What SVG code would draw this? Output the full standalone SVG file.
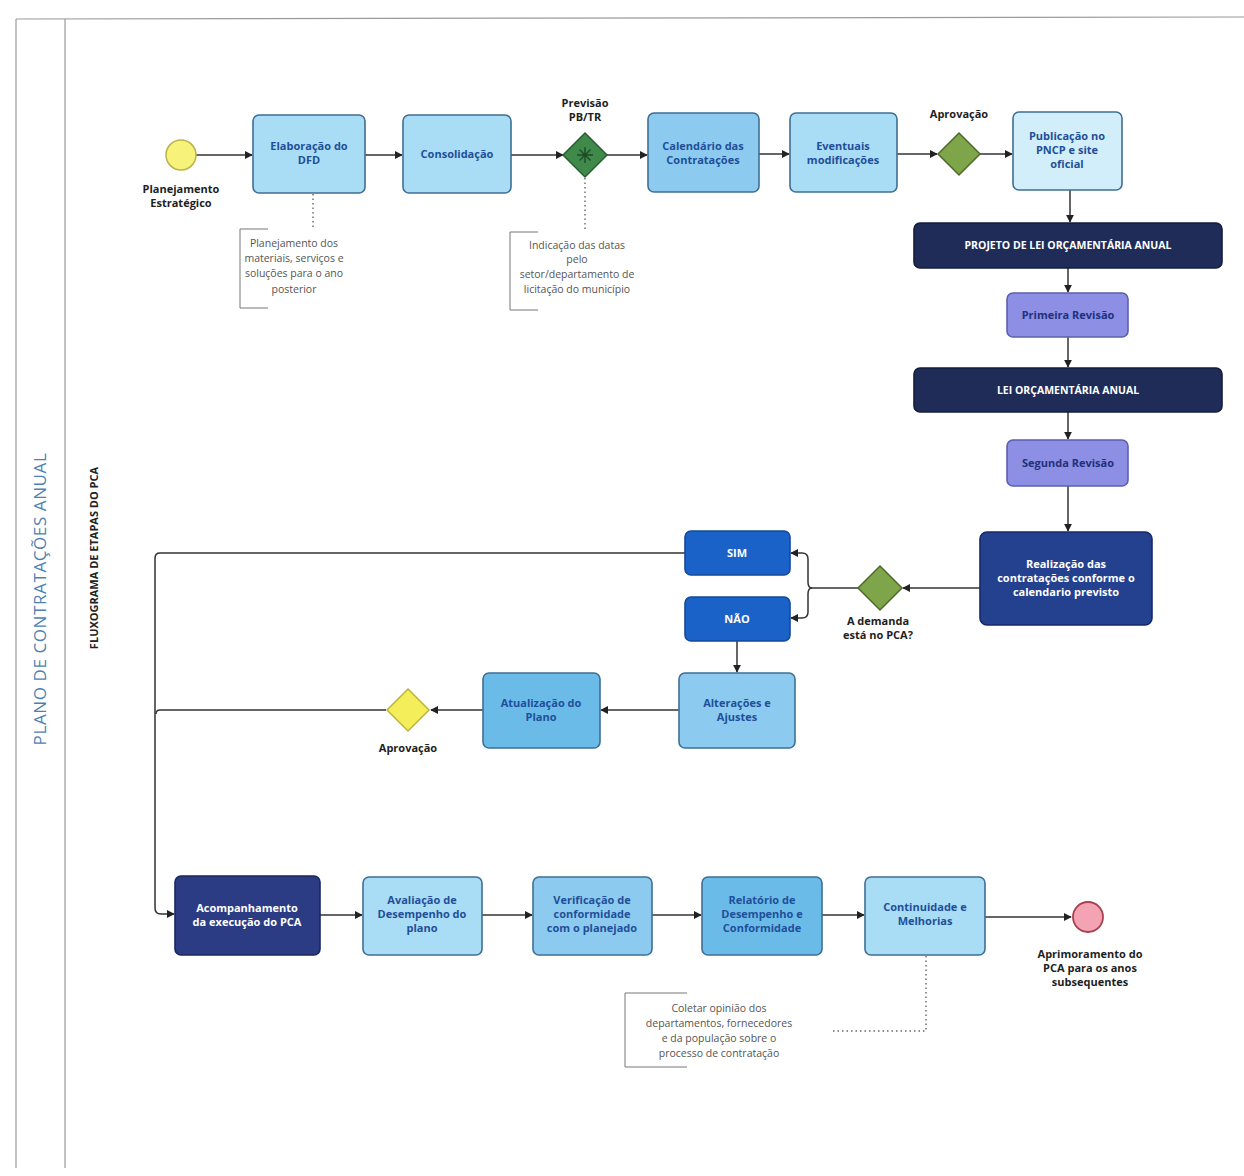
<svg xmlns="http://www.w3.org/2000/svg" width="1244" height="1176" viewBox="0 0 1244 1176">
<defs>
<style>
.bg{fill:#ffffff}
.frame{fill:none;stroke:#9a9a9a;stroke-width:1.2}
.box{stroke:#3f6f94;stroke-width:1.6}
.lb{fill:#a9dcf5}
.mb{fill:#8ccbef}
.db{fill:#6bbbe9}
.pb{fill:#d3eefb}
.navy{fill:#1f2c58;stroke:#141d3c;stroke-width:1.6}
.lav{fill:#8c8fe3;stroke:#5c5fb0;stroke-width:1.6}
.nb{fill:#23418f;stroke:#17296a;stroke-width:1.6}
.blue{fill:#1a62c8;stroke:#134a9a;stroke-width:1.6}
.acc{fill:#2b3b84;stroke:#1b275e;stroke-width:1.6}
.t{font-family:"Open Sans","Liberation Sans",sans-serif;font-size:11px;font-weight:bold;text-anchor:middle;fill:#1f4f99}
.tw{font-family:"Open Sans","Liberation Sans",sans-serif;font-size:11px;font-weight:bold;text-anchor:middle;fill:#ffffff}
.tl{font-family:"Open Sans","Liberation Sans",sans-serif;font-size:11px;font-weight:bold;text-anchor:middle;fill:#1e1e1e}
.tn{font-family:"Open Sans","Liberation Sans",sans-serif;font-size:10.5px;text-anchor:middle;fill:#555555}
.conn{fill:none;stroke:#333333;stroke-width:1.5}
.dot{fill:none;stroke:#666666;stroke-width:1.4;stroke-dasharray:1.5 3}
.note{fill:none;stroke:#777777;stroke-width:1}
</style>
<marker id="ah" viewBox="0 0 10 10" refX="9" refY="5" markerWidth="8" markerHeight="8" orient="auto" markerUnits="userSpaceOnUse">
<path d="M0,0 L10,5 L0,10 z" fill="#222222"/>
</marker>
</defs>
<rect class="bg" x="0" y="0" width="1244" height="1176"/>
<g id="frame">
<line class="frame" x1="16" y1="19" x2="1244" y2="17"/>
<line class="frame" x1="16" y1="19" x2="16" y2="1168"/>
<line class="frame" x1="65" y1="19" x2="65" y2="1168"/>
</g>
<g id="titles">
<text x="46" y="599" transform="rotate(-90 46 599)" style="font-family:'Open Sans','Liberation Sans',sans-serif;font-size:17px;fill:#4f7fb3;text-anchor:middle;letter-spacing:0.6px">PLANO DE CONTRATAÇÕES ANUAL</text>
<text x="98" y="558" transform="rotate(-90 98 558)" style="font-family:'Open Sans','Liberation Sans',sans-serif;font-size:11px;font-weight:bold;fill:#222222;text-anchor:middle">FLUXOGRAMA DE ETAPAS DO PCA</text>
</g>
<g id="connectors">
<line class="conn" x1="196" y1="155" x2="252" y2="155" marker-end="url(#ah)"/>
<line class="conn" x1="365" y1="155" x2="402" y2="155" marker-end="url(#ah)"/>
<line class="conn" x1="511" y1="155" x2="563" y2="155" marker-end="url(#ah)"/>
<line class="conn" x1="607" y1="155" x2="647" y2="155" marker-end="url(#ah)"/>
<line class="conn" x1="759" y1="154" x2="789" y2="154" marker-end="url(#ah)"/>
<line class="conn" x1="897" y1="154" x2="937" y2="154" marker-end="url(#ah)"/>
<line class="conn" x1="980" y1="154" x2="1012" y2="154" marker-end="url(#ah)"/>
<line class="conn" x1="1070" y1="190" x2="1070" y2="222" marker-end="url(#ah)"/>
<line class="conn" x1="1068" y1="268" x2="1068" y2="292" marker-end="url(#ah)"/>
<line class="conn" x1="1068" y1="337" x2="1068" y2="367" marker-end="url(#ah)"/>
<line class="conn" x1="1068" y1="412" x2="1068" y2="439" marker-end="url(#ah)"/>
<line class="conn" x1="1068" y1="486" x2="1068" y2="531" marker-end="url(#ah)"/>
<line class="conn" x1="980" y1="588" x2="903" y2="588" marker-end="url(#ah)"/>
<path class="conn" d="M858,588 L812,588"/>
<path class="conn" d="M812,588 Q808,588 808,582 L808,559 Q808,553 802,553 L791,553" marker-end="url(#ah)"/>
<path class="conn" d="M812,588 Q808,588 808,594 L808,612 Q808,618 802,618 L791,618" marker-end="url(#ah)"/>
<line class="conn" x1="737" y1="641" x2="737" y2="672" marker-end="url(#ah)"/>
<line class="conn" x1="679" y1="710" x2="601" y2="710" marker-end="url(#ah)"/>
<line class="conn" x1="483" y1="710" x2="431" y2="710" marker-end="url(#ah)"/>
<path class="conn" d="M386,710 L160,710 Q156,710 156,714"/>
<path class="conn" d="M685,553 L160,553 Q155,553 155,558 L155,908 Q155,914 161,914 L174,914" marker-end="url(#ah)"/>
<line class="conn" x1="320" y1="915" x2="362" y2="915" marker-end="url(#ah)"/>
<line class="conn" x1="482" y1="915" x2="532" y2="915" marker-end="url(#ah)"/>
<line class="conn" x1="652" y1="915" x2="701" y2="915" marker-end="url(#ah)"/>
<line class="conn" x1="822" y1="915" x2="864" y2="915" marker-end="url(#ah)"/>
<line class="conn" x1="985" y1="917" x2="1071" y2="917" marker-end="url(#ah)"/>
<line class="dot" x1="313" y1="194" x2="313" y2="229"/>
<line class="dot" x1="585" y1="178" x2="585" y2="232"/>
<path class="dot" d="M926,956 L926,1031 L832,1031"/>
</g>
<g id="start">
<circle cx="181" cy="155" r="15" fill="#f6f27a" stroke="#b9b34a" stroke-width="1.5"/>
<text class="tl" x="181" y="193">Planejamento</text>
<text class="tl" x="181" y="207">Estratégico</text>
</g>
<g id="elaboracao">
<rect class="box lb" x="253" y="115" width="112" height="78" rx="6"/>
<text class="t" x="309" y="150">Elaboração do</text>
<text class="t" x="309" y="164">DFD</text>
</g>
<g id="consolidacao">
<rect class="box lb" x="403" y="115" width="108" height="78" rx="6"/>
<text class="t" x="457" y="158">Consolidação</text>
</g>
<g id="gw-previsao">
<polygon points="585,133 607,155 585,177 563,155" fill="#3f8a4a" stroke="#2a5e32" stroke-width="1.5"/>
<path d="M585,147 V163 M577,155 H593 M579.5,149.5 L590.5,160.5 M590.5,149.5 L579.5,160.5" stroke="#1f4a24" stroke-width="1.4"/>
<text class="tl" x="585" y="107">Previsão</text>
<text class="tl" x="585" y="121">PB/TR</text>
</g>
<g id="calendario">
<rect class="box mb" x="648" y="113" width="111" height="79" rx="6"/>
<text class="t" x="703" y="150">Calendário das</text>
<text class="t" x="703" y="164">Contratações</text>
</g>
<g id="eventuais">
<rect class="box lb" x="790" y="113" width="107" height="79" rx="6"/>
<text class="t" x="843" y="150">Eventuais</text>
<text class="t" x="843" y="164">modificações</text>
</g>
<g id="gw-aprovacao1">
<polygon points="959,133 980,154 959,175 938,154" fill="#7fa54a" stroke="#4e6a2a" stroke-width="1.5"/>
<text class="tl" x="959" y="118">Aprovação</text>
</g>
<g id="publicacao">
<rect class="box pb" x="1013" y="112" width="109" height="78" rx="6"/>
<text class="t" x="1067" y="140">Publicação no</text>
<text class="t" x="1067" y="154">PNCP e site</text>
<text class="t" x="1067" y="168">oficial</text>
</g>
<g id="projeto-loa">
<rect class="navy" x="914" y="223" width="308" height="45" rx="6"/>
<text class="tw" x="1068" y="249" style="font-size:10.5px">PROJETO DE LEI ORÇAMENTÁRIA ANUAL</text>
</g>
<g id="primeira-revisao">
<rect class="lav" x="1007" y="293" width="121" height="44" rx="6"/>
<text class="t" x="1068" y="319" style="fill:#23307a">Primeira Revisão</text>
</g>
<g id="loa">
<rect class="navy" x="914" y="368" width="308" height="44" rx="6"/>
<text class="tw" x="1068" y="394" style="font-size:10.5px">LEI ORÇAMENTÁRIA ANUAL</text>
</g>
<g id="segunda-revisao">
<rect class="lav" x="1007" y="440" width="121" height="46" rx="6"/>
<text class="t" x="1068" y="467" style="fill:#23307a">Segunda Revisão</text>
</g>
<g id="realizacao">
<rect class="nb" x="980" y="532" width="172" height="93" rx="7"/>
<text class="tw" x="1066" y="568">Realização das</text>
<text class="tw" x="1066" y="582">contratações conforme o</text>
<text class="tw" x="1066" y="596">calendario previsto</text>
</g>
<g id="gw-demanda">
<polygon points="880,566 902,588 880,610 858,588" fill="#7fa54a" stroke="#4e6a2a" stroke-width="1.5"/>
<text class="tl" x="878" y="625">A demanda</text>
<text class="tl" x="878" y="639">está no PCA?</text>
</g>
<g id="sim">
<rect class="blue" x="685" y="531" width="105" height="44" rx="6"/>
<text class="tw" x="737" y="557">SIM</text>
</g>
<g id="nao">
<rect class="blue" x="685" y="597" width="105" height="44" rx="6"/>
<text class="tw" x="737" y="623">NÃO</text>
</g>
<g id="alteracoes">
<rect class="box mb" x="679" y="673" width="116" height="75" rx="6"/>
<text class="t" x="737" y="707">Alterações e</text>
<text class="t" x="737" y="721">Ajustes</text>
</g>
<g id="atualizacao">
<rect class="box db" x="483" y="673" width="117" height="75" rx="6"/>
<text class="t" x="541" y="707">Atualização do</text>
<text class="t" x="541" y="721">Plano</text>
</g>
<g id="gw-aprovacao2">
<polygon points="408,689 429,710 408,731 387,710" fill="#f4ee5a" stroke="#bcb53a" stroke-width="1.5"/>
<text class="tl" x="408" y="752">Aprovação</text>
</g>
<g id="acompanhamento">
<rect class="acc" x="175" y="876" width="145" height="79" rx="6"/>
<text class="tw" x="247" y="912">Acompanhamento</text>
<text class="tw" x="247" y="926">da execução do PCA</text>
</g>
<g id="avaliacao">
<rect class="box lb" x="363" y="877" width="119" height="78" rx="6"/>
<text class="t" x="422" y="904">Avaliação de</text>
<text class="t" x="422" y="918">Desempenho do</text>
<text class="t" x="422" y="932">plano</text>
</g>
<g id="verificacao">
<rect class="box mb" x="533" y="877" width="119" height="78" rx="6"/>
<text class="t" x="592" y="904">Verificação de</text>
<text class="t" x="592" y="918">conformidade</text>
<text class="t" x="592" y="932">com o planejado</text>
</g>
<g id="relatorio">
<rect class="box db" x="702" y="877" width="120" height="78" rx="6"/>
<text class="t" x="762" y="904">Relatório de</text>
<text class="t" x="762" y="918">Desempenho e</text>
<text class="t" x="762" y="932">Conformidade</text>
</g>
<g id="continuidade">
<rect class="box lb" x="865" y="877" width="120" height="78" rx="6"/>
<text class="t" x="925" y="911">Continuidade e</text>
<text class="t" x="925" y="925">Melhorias</text>
</g>
<g id="end">
<circle cx="1088" cy="917" r="15" fill="#f4a3b3" stroke="#a8404f" stroke-width="1.8"/>
<text class="tl" x="1090" y="958">Aprimoramento do</text>
<text class="tl" x="1090" y="972">PCA para os anos</text>
<text class="tl" x="1090" y="986">subsequentes</text>
</g>
<g id="note-dfd">
<path class="note" d="M268,229 L240,229 L240,308 L268,308"/>
<text class="tn" x="294" y="247">Planejamento dos</text>
<text class="tn" x="294" y="262">materiais, serviços e</text>
<text class="tn" x="294" y="277">soluções para o ano</text>
<text class="tn" x="294" y="293">posterior</text>
</g>
<g id="note-previsao">
<path class="note" d="M538,232 L510,232 L510,310 L538,310"/>
<text class="tn" x="577" y="249">Indicação das datas</text>
<text class="tn" x="577" y="263">pelo</text>
<text class="tn" x="577" y="278">setor/departamento de</text>
<text class="tn" x="577" y="293">licitação do município</text>
</g>
<g id="note-continuidade">
<path class="note" d="M687,993 L625,993 L625,1067 L687,1067"/>
<text class="tn" x="719" y="1012">Coletar opinião dos</text>
<text class="tn" x="719" y="1027">departamentos, fornecedores</text>
<text class="tn" x="719" y="1042">e da população sobre o</text>
<text class="tn" x="719" y="1057">processo de contratação</text>
</g>
</svg>
